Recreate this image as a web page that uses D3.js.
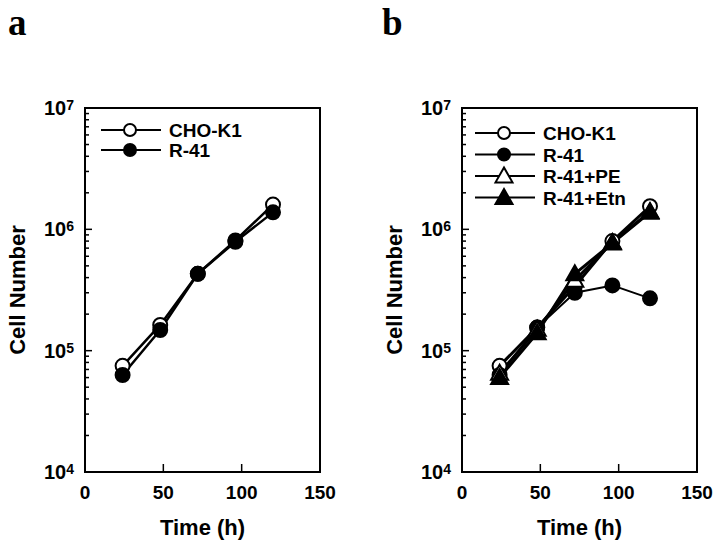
<!DOCTYPE html>
<html><head><meta charset="utf-8">
<script src="https://cdn.jsdelivr.net/npm/d3@7"></script>
<style>body{margin:0;background:#fff}svg{display:block}text{font-family:"Liberation Sans",Arial,sans-serif;font-weight:bold;fill:#000}text.letter{font-family:"Liberation Serif","Times New Roman",serif}</style>
</head><body><svg id="c" width="720" height="546"></svg>
<script>
const times = [24, 48, 72, 96, 120];
const aCHO = [7.5e4, 1.63e5, 4.3e5, 8.1e5, 1.6e6];
const aR41 = [6.3e4, 1.48e5, 4.3e5, 7.9e5, 1.38e6];
const bCHO = [7.5e4, 1.55e5, 3.4e5, 8.0e5, 1.55e6];
const bR41 = [6.3e4, 1.55e5, 3.0e5, 3.45e5, 2.7e5];
const bPE = [6.5e4, 1.5e5, 3.8e5, 7.8e5, 1.4e6];
const bEtn = [6.0e4, 1.4e5, 4.3e5, 7.7e5, 1.38e6];
const xTicks = [0, 50, 100, 150];
const yTicks = [1e4, 1e5, 1e6, 1e7];
const panelLetters = ["a", "b"];
const labelsA = ["CHO-K1", "R-41"];
const labelsB = ["CHO-K1", "R-41", "R-41+PE", "R-41+Etn"];

const svg = d3.select("#c");
const plotTop = 108, plotBottom = 472;

function sym(g, type, x, y, r) {
  if (type === "openCircle" || type === "fillCircle") {
    g.append("circle").attr("cx", x).attr("cy", y).attr("r", r)
      .attr("fill", type === "fillCircle" ? "#000" : "#fff").attr("stroke", "#000").attr("stroke-width", 2);
  } else {
    const s = 8.5;
    g.append("path").attr("d", `M${x},${y - s}L${x + s},${y + s * 0.75}L${x - s},${y + s * 0.75}Z`)
      .attr("fill", type === "fillTri" ? "#000" : "#fff").attr("stroke", "#000").attr("stroke-width", 2);
  }
}

function panel(left, right, letter, letterX, series, legendX, legendY, legendStep) {
  const x = d3.scaleLinear().domain([0, 150]).range([left, right]);
  const y = d3.scaleLog().domain([1e4, 1e7]).range([plotBottom, plotTop]);
  const g = svg.append("g");
  g.append("rect").attr("x", left).attr("y", plotTop).attr("width", right - left).attr("height", plotBottom - plotTop)
    .attr("fill", "none").attr("stroke", "#000").attr("stroke-width", 2);
  const minor = [];
  for (let d = 4; d < 7; d++) for (let m = 2; m <= 9; m++) minor.push(m * Math.pow(10, d));
  minor.forEach(v => g.append("line").attr("x1", left).attr("x2", left + 4).attr("y1", y(v)).attr("y2", y(v)).attr("stroke", "#000").attr("stroke-width", 1.5));
  yTicks.forEach(v => {
    g.append("line").attr("x1", left).attr("x2", left + 7).attr("y1", y(v)).attr("y2", y(v)).attr("stroke", "#000").attr("stroke-width", 1.5);
    const t = g.append("text").attr("x", left - 11).attr("y", y(v) + 7).attr("text-anchor", "end").attr("font-size", 20);
    t.append("tspan").text("10");
    t.append("tspan").attr("dy", -5).attr("font-size", 14).text(Math.round(Math.log10(v)));
  });
  xTicks.forEach(v => {
    g.append("line").attr("x1", x(v)).attr("x2", x(v)).attr("y1", plotBottom).attr("y2", plotBottom - 8).attr("stroke", "#000").attr("stroke-width", 1.5);
    g.append("text").attr("x", x(v)).attr("y", plotBottom + 27).attr("text-anchor", "middle").attr("font-size", 19).text(v);
  });
  g.append("text").attr("x", (left + right) / 2).attr("y", plotBottom + 63).attr("text-anchor", "middle").attr("font-size", 22).text("Time (h)");
  g.append("text").attr("transform", `translate(${left - 60},${(plotTop + plotBottom) / 2}) rotate(-90)`).attr("text-anchor", "middle").attr("font-size", 22).text("Cell Number");
  g.append("text").attr("class", "letter").attr("x", letterX).attr("y", 35).attr("font-size", 37).text(letter);
  const line = d3.line().x((d, i) => x(times[i])).y(d => y(d));
  series.forEach(s => g.append("path").attr("d", line(s.values)).attr("fill", "none").attr("stroke", "#000").attr("stroke-width", s.lw).attr("stroke-linejoin", "round"));
  series.forEach(s => s.values.forEach((v, i) => sym(g, s.sym, x(times[i]), y(v), 7)));
  series.forEach((s, i) => {
    const ly = legendY + i * legendStep;
    g.append("line").attr("x1", legendX).attr("x2", legendX + 60).attr("y1", ly).attr("y2", ly).attr("stroke", "#000").attr("stroke-width", 2);
    sym(g, s.sym, legendX + 29, ly, 6);
    g.append("text").attr("x", legendX + 68).attr("y", ly + 7).attr("font-size", 19).text(s.label);
  });
}

panel(85, 320, panelLetters[0], 8, [
  {label: labelsA[0], values: aCHO, sym: "openCircle", lw: 2.5},
  {label: labelsA[1], values: aR41, sym: "fillCircle", lw: 2.5}
], 101, 130, 20);
panel(462, 697, panelLetters[1], 382, [
  {label: labelsB[0], values: bCHO, sym: "openCircle", lw: 3},
  {label: labelsB[1], values: bR41, sym: "fillCircle", lw: 2},
  {label: labelsB[2], values: bPE, sym: "openTri", lw: 3},
  {label: labelsB[3], values: bEtn, sym: "fillTri", lw: 3}
], 475, 133, 21.5);
</script></body></html>
